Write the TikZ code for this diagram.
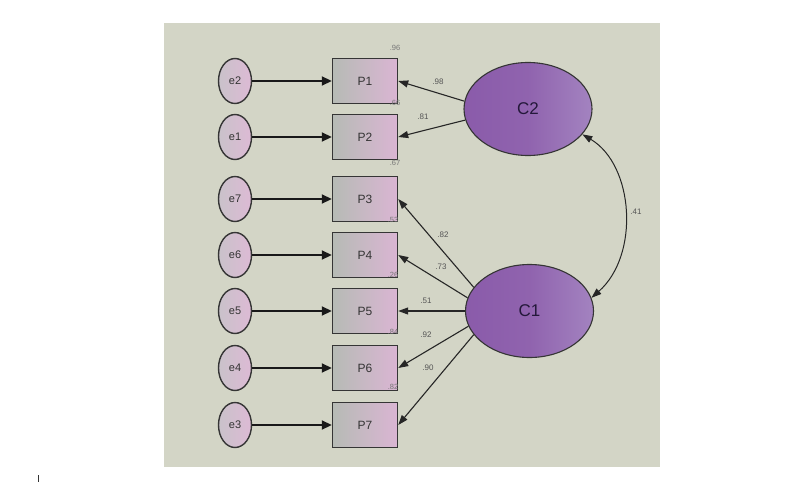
\documentclass[tikz,border=0pt]{standalone}
\usepackage{fontspec}
\setmainfont{Liberation Sans}
\usetikzlibrary{arrows.meta,shapes.geometric}
\definecolor{panelbg}{HTML}{D3D5C6}
\definecolor{boxleft}{HTML}{B6BBB5}
\definecolor{boxright}{HTML}{DAB5D3}
\definecolor{errleft}{HTML}{C9C2CA}
\definecolor{errright}{HTML}{DDBAD5}
\definecolor{latleft}{HTML}{8A5BAA}
\definecolor{latright}{HTML}{A383C0}
\definecolor{edge}{HTML}{353535}
\definecolor{lbl}{HTML}{555555}
\definecolor{ctext}{HTML}{24183A}
\begin{document}
\begin{tikzpicture}[x=1pt,y=-1pt,
  errnode/.style={ellipse,draw=edge,line width=1.4pt,minimum width=33pt,minimum height=45pt,inner sep=0pt,
    left color=errleft,right color=errright,font=\fontsize{11}{11}\selectfont,text=black!80},
  obsnode/.style={rectangle,draw=edge,line width=1.4pt,minimum width=65pt,minimum height=45pt,inner sep=0pt,
    left color=boxleft,right color=boxright,font=\fontsize{12}{12}\selectfont,text=black!80},
  latnode/.style={ellipse,draw=edge,line width=1.1pt,minimum width=128pt,minimum height=93pt,inner sep=0pt,
    left color=latleft,right color=latright,middle color=latleft!95!white,font=\fontsize{17}{17}\selectfont,text=ctext},
  errarrow/.style={line width=1.8pt,draw=black!90,-{Triangle[length=10pt,width=9pt]}},
  loadarrow/.style={line width=1.1pt,draw=black!85,-{Triangle[length=10pt,width=7pt]}},
  covarrow/.style={line width=1.0pt,draw=black!85,{Triangle[length=10pt,width=7pt]}-{Triangle[length=10pt,width=7pt]}},
  coef/.style={font=\fontsize{8}{8}\selectfont,text=lbl,inner sep=0pt},
  rsq/.style={font=\fontsize{7.5}{7.5}\selectfont,text=lbl!80,inner sep=0pt}
]
\useasboundingbox (0,0) rectangle (794,484);
\fill[white] (0,0) rectangle (794,484);
\fill[panelbg] (164,23) rectangle (660,467);
\draw[black!80,line width=0.8pt] (38,475) -- (38,482);

% error terms
\node[errnode] (e2) at (235,81) {e2};
\node[errnode] (e1) at (235,137) {e1};
\node[errnode] (e7) at (235,199) {e7};
\node[errnode] (e6) at (235,255) {e6};
\node[errnode] (e5) at (235,311) {e5};
\node[errnode] (e4) at (235,368) {e4};
\node[errnode] (e3) at (235,425) {e3};

% observed
\node[obsnode] (P1) at (365,81) {P1};
\node[obsnode] (P2) at (365,137) {P2};
\node[obsnode] (P3) at (365,199) {P3};
\node[obsnode] (P4) at (365,255) {P4};
\node[obsnode] (P5) at (365,311) {P5};
\node[obsnode] (P6) at (365,368) {P6};
\node[obsnode] (P7) at (365,425) {P7};

% latent
\node[latnode] (C2) at (528,109) {C2};
\node[latnode] (C1) at (529.5,311) {C1};

% error arrows
\draw[errarrow] (e2) -- (P1);
\draw[errarrow] (e1) -- (P2);
\draw[errarrow] (e7) -- (P3);
\draw[errarrow] (e6) -- (P4);
\draw[errarrow] (e5) -- (P5);
\draw[errarrow] (e4) -- (P6);
\draw[errarrow] (e3) -- (P7);

% loadings
\draw[loadarrow] (C2.173) -- (P1.east);
\draw[loadarrow] (C2.190) -- (P2.east);
\draw[loadarrow] (C1.157) -- (P3.east);
\draw[loadarrow] (C1.168) -- (P4.east);
\draw[loadarrow] (C1.west) -- (P5.east);
\draw[loadarrow] (C1.194) -- (P6.east);
\draw[loadarrow] (C1.203) -- (P7.east);

% covariance
\draw[covarrow] (C1.12) .. controls (640,255) and (634,165) .. (C2.335);

% coefficient labels
\node[coef] (l98) at (438,82) {.98};
\node[coef] (l81) at (423,117) {.81};
\node[coef] (l82) at (443,235) {.82};
\node[coef] (l73) at (441,267) {.73};
\node[coef] (l51) at (426,301) {.51};
\node[coef] (l92) at (426,335) {.92};
\node[coef] (l90) at (428,368) {.90};
\node[coef] (l41) at (636,212) {.41};

% squared multiple correlations
\node[rsq] (r1) at (395,48) {.96};
\node[rsq] (r2) at (395,103) {.66};
\node[rsq] (r3) at (395,163) {.67};
\node[rsq] (r4) at (393,220) {.53};
\node[rsq] (r5) at (393,275) {.26};
\node[rsq] (r6) at (393,332) {.84};
\node[rsq] (r7) at (393,387) {.82};
\end{tikzpicture}
\end{document}
